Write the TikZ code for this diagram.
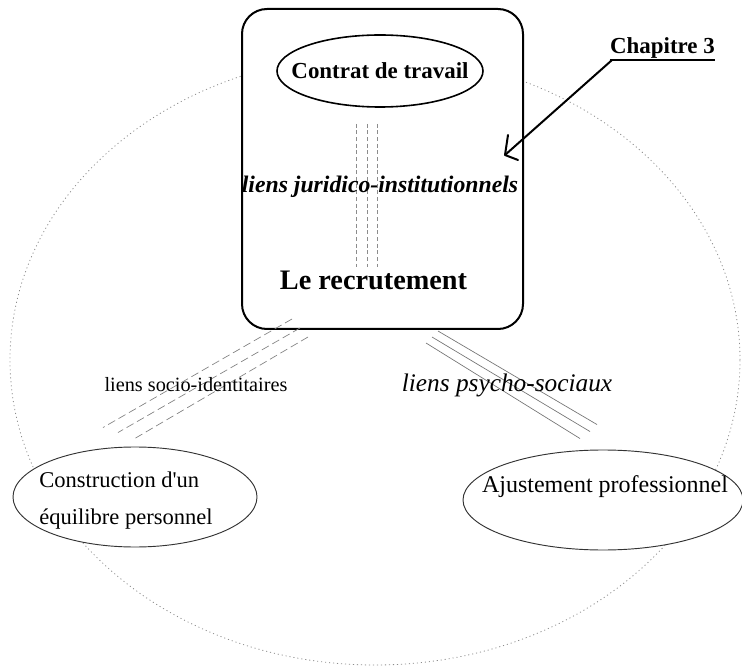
\documentclass[tikz,border=0pt]{standalone}
\usepackage{fontspec}
\setmainfont{Liberation Serif}
\usetikzlibrary{shapes.geometric,calc}
\begin{document}
\begin{tikzpicture}[x=0.75pt,y=-0.75pt,
  orbit/.style={draw=black!45, line width=0.6pt, dash pattern=on 0.8pt off 2.2pt},
  frame/.style={draw, line width=1.5pt, rounded corners=18.75pt, fill=white, inner sep=0},
  bubble/.style={ellipse, draw=black!80, line width=0.7pt, fill=white, inner sep=0},
  vlink/.style={draw=black!45, line width=0.5pt, dash pattern=on 3pt off 2pt},
  slink/.style={draw=black!50, line width=0.5pt, dash pattern=on 6pt off 3pt},
  plink/.style={draw=black!55, line width=0.5pt},
  pointer/.style={draw, line width=1.5pt, line cap=round, line join=round}
]
\useasboundingbox (0,0) rectangle (742,666);

% faint surrounding orbit
\draw[orbit] (375,360) ellipse [x radius=273.75pt, y radius=228.75pt];

% central frame: recruitment
\node[frame, minimum width=210.75pt, minimum height=240pt] (rec) at (382.5,169) {};

\node[bubble, line width=1.2pt, draw=black, minimum width=154.5pt, minimum height=54pt] (ct) at (380,71) {};
\node[font=\fontsize{17.2}{20}\selectfont\bfseries] at (ct.center) {Contrat de travail};

\node[font=\fontsize{21.2}{24}\selectfont\bfseries, inner sep=0, anchor=base] (lr) at (373.5,290) {Le recrutement};

% juridico-institutional links
\draw[vlink] ($(ct.south)+(-24,16)$) -- ($(lr.north)+(-17.5,-4)$);
\draw[vlink] ($(ct.south)+(-13,16)$) -- ($(lr.north)+(-6.5,-4)$);
\draw[vlink] ($(ct.south)+(-3,16)$) -- ($(lr.north)+(3.5,-4)$);

\node[font=\fontsize{17.8}{20}\selectfont\bfseries\itshape] (jur) at (380,187) {liens juridico-institutionnels};

% lower bubbles
\node[bubble, minimum width=183pt, minimum height=75pt] (lc) at (135,497) {};
\node[font=\fontsize{16.9}{27.7}\selectfont, align=left] at (126,501) {Construction d\textquotesingle un\\équilibre personnel};

\node[bubble, minimum width=210pt, minimum height=75pt] (rc) at (603,500) {};
\node[font=\fontsize{18}{20}\selectfont] at (605,487) {Ajustement professionnel};

% socio-identity links
\draw[slink] ($(rec.south)+(-90.5,-11)$) -- ($(lc.north)+(-32,-19)$);
\draw[slink] ($(rec.south)+(-82.5,-2)$) -- ($(lc.north)+(-17,-14)$);
\draw[slink] ($(rec.south)+(-74.5,7)$) -- ($(lc.north)+(-2,-7)$);

% psycho-social links
\draw[plink] ($(rec.south)+(55.5,1)$) -- ($(rc.north)+(-6,-25)$);
\draw[plink] ($(rec.south)+(49.5,7)$) -- ($(rc.north)+(-13,-18)$);
\draw[plink] ($(rec.south)+(43.5,13)$) -- ($(rc.north)+(-23,-11)$);

\node[font=\fontsize{15.2}{18}\selectfont] (soc) at (196,385) {liens socio-identitaires};
\node[font=\fontsize{19}{22}\selectfont\itshape] (psy) at (507,385) {liens psycho-sociaux};

% chapter reference with a hand-drawn open arrowhead
\node[font=\fontsize{17.2}{20}\selectfont\bfseries, inner sep=0, anchor=base] (ch) at (662.5,54) {Chapitre 3};
\draw[line width=1.8pt] ($(ch.south west)+(0,1)$) -- ($(ch.south east)+(0,1)$);
\coordinate (tip) at (505,155);
\draw[pointer] ($(ch.south west)+(2,1)$) -- (tip);
\draw[pointer] ($(tip)+(3,-20)$) -- (tip) -- ($(tip)+(13,5)$);
\end{tikzpicture}
\end{document}
